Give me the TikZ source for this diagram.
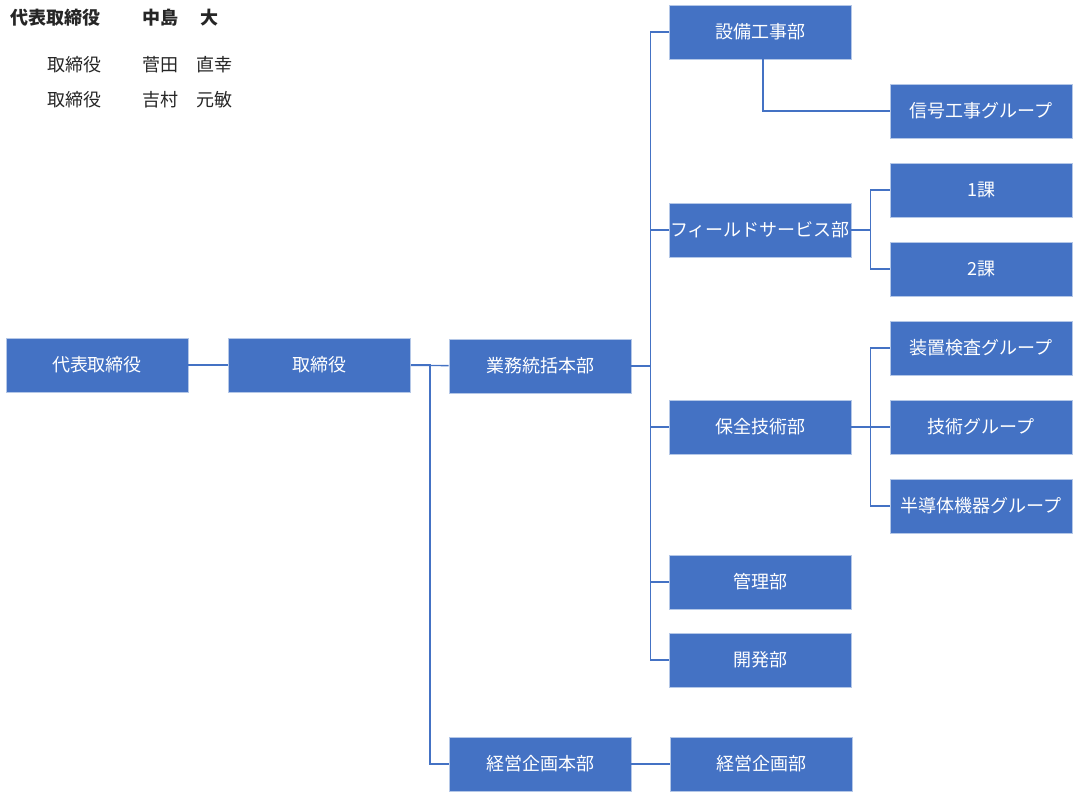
\documentclass[tikz,border=0pt]{standalone}
\usepackage{fontspec}
\newfontfamily\jp{Noto Sans CJK JP}
\usepackage{tikz}
\usetikzlibrary{positioning}
\definecolor{orgblue}{RGB}{68,114,196}
\definecolor{orgedge}{RGB}{180,199,231}

\begin{document}
\begin{tikzpicture}[
      x=1pt, y=-1pt,
      every node/.style={font=\jp\fontsize{18}{21}\selectfont},
      orgbox/.style={
        rectangle, fill=orgblue, draw=orgedge, line width=0.6pt,
        minimum width=182pt, minimum height=54pt, inner sep=0pt,
        text=white, align=center
      },
      namelabel/.style={anchor=west, inner sep=0pt, text=black!85},
      link/.style={draw=orgblue, line width=1.4pt}
    ]
    \useasboundingbox (0,0) rectangle (1080,794);

    % ===== Top left: officers =====
    \node[namelabel, font=\jp\bfseries\fontsize{18}{21}\selectfont] (t1) at (10,18) {代表取締役};
    \node[namelabel, font=\jp\bfseries\fontsize{18}{21}\selectfont] (n1) at (142,18) {中島\hspace{4pt}　大};
    \node[namelabel] (t2) at (47,65) {取締役};
    \node[namelabel] (n2) at (142,65) {菅田　直幸};
    \node[namelabel] (t3) at (47,100) {取締役};
    \node[namelabel] (n3) at (142,100) {吉村　元敏};

    % ===== Left: top management =====
    \node[orgbox] (daihyo) at (97,365) {代表取締役};
    \node[orgbox] (torishimari) at (319.5,365) {取締役};

    % ===== Middle: head offices =====
    \node[orgbox] (gyomu) at (540,366) {業務統括本部};
    \node[orgbox] (keieihonbu) at (540,764) {経営企画本部};

    % ===== Departments =====
    \node[orgbox] (setsubi) at (760,32) {設備工事部};
    \node[orgbox] (field) at (760,230) {フィールドサービス部};
    \node[orgbox] (hozen) at (760,427) {保全技術部};
    \node[orgbox] (kanri) at (760,582) {管理部};
    \node[orgbox] (kaihatsu) at (760,660) {開発部};
    \node[orgbox] (keikaku) at (761,764) {経営企画部};

    % ===== Groups and sections =====
    \node[orgbox] (shingo) at (981,111) {信号工事グループ};
    \node[orgbox] (ka1) at (981,190) {1課};
    \node[orgbox] (ka2) at (981,269) {2課};
    \node[orgbox] (sochi) at (981,348) {装置検査グループ};
    \node[orgbox] (gijutsu) at (981,427) {技術グループ};
    \node[orgbox] (handotai) at (981,506) {半導体機器グループ};

    % ===== Connectors: management to head offices =====
    \draw[link] (daihyo) -- (torishimari);
    \draw[link] (torishimari) -- (gyomu);
    \draw[link] (torishimari.east) -- ++(19,0) |- (keieihonbu.west);
    \draw[link] (keieihonbu) -- (keikaku);

    % ===== Connectors: head office to departments =====
    \draw[link] (gyomu.east) -- ++(19,0) coordinate (busG);
    \foreach \d in {setsubi, field, hozen, kanri, kaihatsu}
      \draw[link] (busG) |- (\d.west);

    % ===== Connectors: departments to groups =====
    \draw[link] ([xshift=3pt]setsubi.south) |- (shingo.west);
    \draw[link] (field.east) -- ++(19,0) coordinate (busF);
    \foreach \g in {ka1, ka2}
      \draw[link] (busF) |- (\g.west);
    \draw[link] (hozen.east) -- ++(19,0) coordinate (busH);
    \foreach \g in {sochi, gijutsu, handotai}
      \draw[link] (busH) |- (\g.west);
  \end{tikzpicture}
\end{document}
